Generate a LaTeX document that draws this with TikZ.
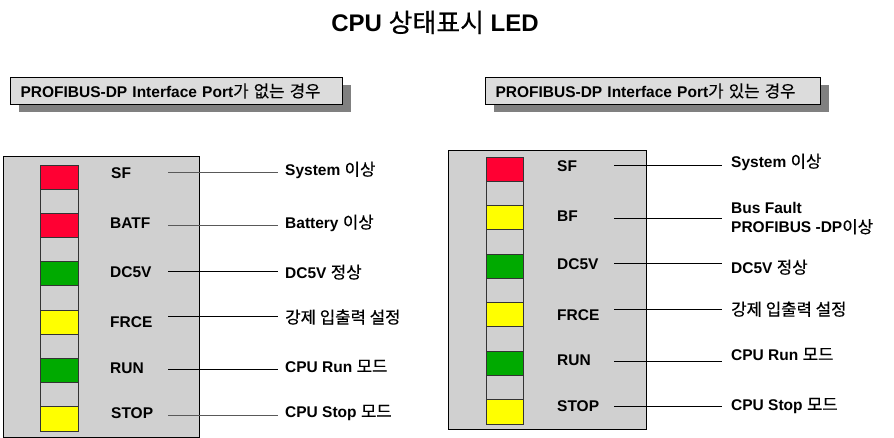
\documentclass[tikz,border=0pt]{standalone}
\usepackage{fontspec}
\setmainfont{Liberation Sans}
\newfontfamily\krfont[Scale=1.08,FakeBold=0.4]{Noto Sans CJK KR}
\newcommand\hangul[1]{{\krfont\mdseries #1}}
\usetikzlibrary{shadows}
\definecolor{panelgray}{HTML}{D0D0D0}
\definecolor{hdrgray}{HTML}{DCDCDC}
\definecolor{shadowgray}{HTML}{808080}
\definecolor{ledred}{HTML}{FF0033}
\definecolor{ledgreen}{HTML}{00AA00}
\definecolor{ledyellow}{HTML}{FFFF00}
\definecolor{ledframe}{HTML}{333333}
\tikzset{
  lbl/.style={anchor=base west, inner sep=0pt, font=\fontsize{15.5}{18}\selectfont\bfseries},
  hdrbox/.style={draw=black, fill=hdrgray, line width=1pt, anchor=north west,
    text width=312pt, inner xsep=10pt, inner ysep=0pt, minimum height=27pt, align=left,
    font=\fontsize{15.5}{18}\selectfont\bfseries,
    drop shadow={shadow xshift=8.5pt, shadow yshift=-8pt, fill=shadowgray, opacity=1}},
  panelbox/.style={draw=black, fill=panelgray, line width=1pt},
  ledbox/.style={draw=ledframe, line width=0.9pt},
  colframe/.style={draw=ledframe, line width=0.9pt},
  conn/.style={draw=black, line width=0.8pt},
  conng/.style={draw=black!65, line width=0.9pt},
}
\begin{document}
\begin{tikzpicture}[x=1pt,y=-1pt]
\useasboundingbox (0,0) rectangle (894,438);
\fill[white] (0,0) rectangle (894,438);

% title
\node[anchor=base, inner sep=0pt, font=\fontsize{24}{28}\selectfont\bfseries] (title) at (435,32) {CPU \hangul{상태표시} LED};

% headers
\node[hdrbox] (hL) at (10,77) {PROFIBUS-DP Interface Port\hangul{가 없는 경우}};
\node[hdrbox, text width=315pt] (hR) at (485,77) {PROFIBUS-DP Interface Port\hangul{가 있는 경우}};

% panels
\draw[panelbox] (3,157) rectangle (199,437);
\draw[panelbox] (448,151) rectangle (646,429);

% LED columns
\foreach \c [count=\i from 0] in {ledred,ledred,ledgreen,ledyellow,ledgreen,ledyellow} {
  \pgfmathsetmacro\ya{165+2*\i*24.18}
  \draw[ledbox, fill=\c] (40,\ya) rectangle (78,\ya+24.18);
}
\draw[colframe] (40,165) rectangle (78,431);
\foreach \c [count=\i from 0] in {ledred,ledyellow,ledgreen,ledyellow,ledgreen,ledyellow} {
  \pgfmathsetmacro\ya{157+2*\i*24.27}
  \draw[ledbox, fill=\c] (486,\ya) rectangle (523,\ya+24.27);
}
\draw[colframe] (486,157) rectangle (523,424);

% left labels
\node[lbl] (lSF) at (111,179) {SF};
\node[lbl] (lBATF) at (110,229) {BATF};
\node[lbl] (lDC) at (110,278) {DC5V};
\node[lbl] (lFRCE) at (110,327) {FRCE};
\node[lbl] (lRUN) at (110,373) {RUN};
\node[lbl] (lSTOP) at (111,418) {STOP};

% left descriptions
\node[lbl] (dSF) at (285,175.5) {System \hangul{이상}};
\node[lbl] (dBATF) at (285,228.4) {Battery \hangul{이상}};
\node[lbl] (dDC) at (285,278.4) {DC5V \hangul{정상}};
\node[lbl] (dFRCE) at (285,323.4) {\hangul{강제 입출력 설정}};
\node[lbl] (dRUN) at (285,372.4) {CPU Run \hangul{모드}};
\node[lbl] (dSTOP) at (285,417.4) {CPU Stop \hangul{모드}};

% left connectors
\foreach \n/\y in {SF/172.7,BATF/225.7,DC/271.3,FRCE/316,RUN/369.3,STOP/415} {
  \coordinate (a\n) at (168,\y);
  \coordinate (b\n) at (278,\y);
}
\draw[conng] (aSF) -- (bSF);
\draw[conng] (aBATF) -- (bBATF);
\draw[conn] (aDC) -- (bDC);
\draw[conn] (aFRCE) -- (bFRCE);
\draw[conn] (aRUN) -- (bRUN);
\draw[conng] (aSTOP) -- (bSTOP);

% right labels
\node[lbl] (rSF) at (557,172) {SF};
\node[lbl] (rBF) at (557,222) {BF};
\node[lbl] (rDC) at (557,270) {DC5V};
\node[lbl] (rFRCE) at (557,320) {FRCE};
\node[lbl] (rRUN) at (557,365) {RUN};
\node[lbl] (rSTOP) at (557,411) {STOP};

% right descriptions
\node[lbl] (eSF) at (731,167.5) {System \hangul{이상}};
\node[lbl] (eBF) at (731,213.5) {Bus Fault};
\node[lbl] (eBF2) at (731,233) {PROFIBUS -DP\hangul{이상}};
\node[lbl] (eDC) at (731,273.5) {DC5V \hangul{정상}};
\node[lbl] (eFRCE) at (731,315.5) {\hangul{강제 입출력 설정}};
\node[lbl] (eRUN) at (731,360.5) {CPU Run \hangul{모드}};
\node[lbl] (eSTOP) at (731,410.5) {CPU Stop \hangul{모드}};

% right connectors
\foreach \n/\y in {SF/165,BF/218.3,DC/263.3,FRCE/309.3,RUN/361.7,STOP/406.7} {
  \coordinate (p\n) at (614,\y);
  \coordinate (q\n) at (722,\y);
}
\draw[conn] (pSF) -- (qSF);
\draw[conn] (pBF) -- (qBF);
\draw[conn] (pDC) -- (qDC);
\draw[conn] (pFRCE) -- (qFRCE);
\draw[conn] (pRUN) -- (qRUN);
\draw[conn] (pSTOP) -- (qSTOP);
\end{tikzpicture}
\end{document}
